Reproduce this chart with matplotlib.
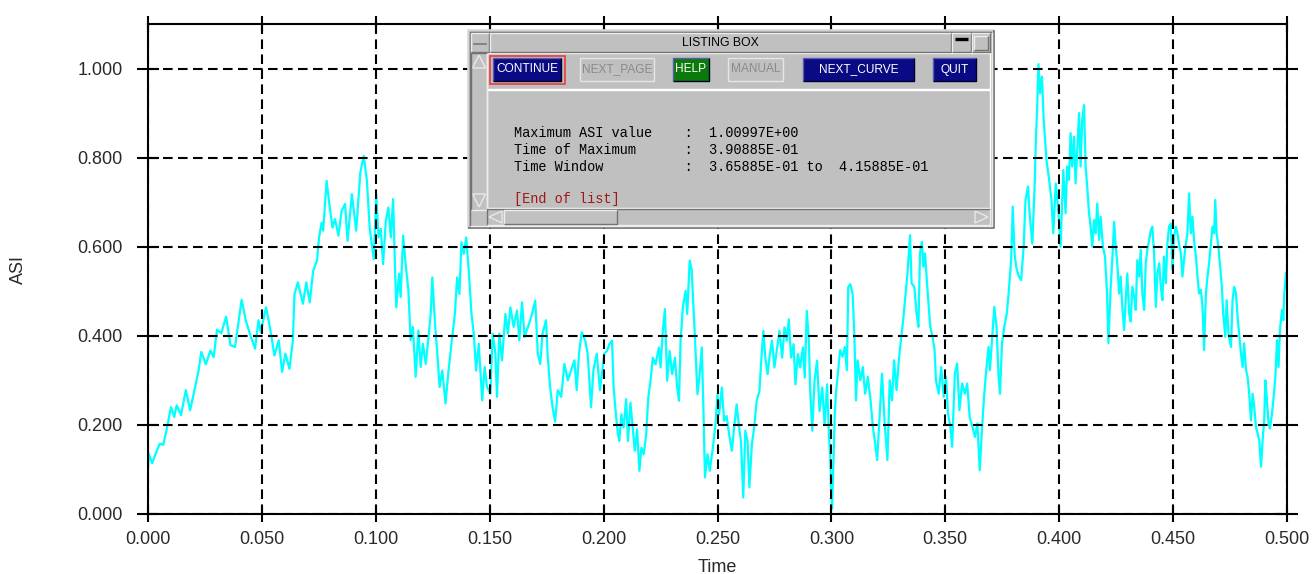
import matplotlib
matplotlib.use("Agg")
import matplotlib.pyplot as plt
from matplotlib.patches import Rectangle, Polygon

# ASI curve
time = [
    0.0000, 0.0003, 0.0018, 0.0037, 0.0052, 0.0067, 0.0081, 0.0101, 0.0115, 0.0126,
    0.0145, 0.0166, 0.0185, 0.0207, 0.0222, 0.0234, 0.0254, 0.0274, 0.0288, 0.0303,
    0.0322, 0.0343, 0.0362, 0.0382, 0.0411, 0.0429, 0.0447, 0.0470, 0.0485, 0.0495,
    0.0518, 0.0535, 0.0555, 0.0574, 0.0589, 0.0603, 0.0621, 0.0636, 0.0643, 0.0658,
    0.0680, 0.0695, 0.0710, 0.0725, 0.0742, 0.0751, 0.0762, 0.0769, 0.0784, 0.0796,
    0.0810, 0.0821, 0.0836, 0.0850, 0.0865, 0.0876, 0.0895, 0.0914, 0.0932, 0.0947,
    0.0961, 0.0973, 0.0991,
    0.1002, 0.1012, 0.1022, 0.1032, 0.1044, 0.1055, 0.1066, 0.1076, 0.1085, 0.1090,
    0.1102, 0.1109, 0.1120, 0.1131, 0.1143, 0.1153, 0.1163, 0.1175, 0.1187, 0.1197,
    0.1207, 0.1219, 0.1230, 0.1241, 0.1248, 0.1260, 0.1270, 0.1280, 0.1292, 0.1306,
    0.1318, 0.1332, 0.1347, 0.1357, 0.1367, 0.1376, 0.1386, 0.1397, 0.1408, 0.1420,
    0.1430, 0.1440, 0.1452, 0.1467, 0.1478, 0.1488, 0.1503, 0.1513, 0.1525, 0.1532,
    0.1542, 0.1554, 0.1569, 0.1580, 0.1591, 0.1605, 0.1620, 0.1630, 0.1642, 0.1653,
    0.1668, 0.1682, 0.1700, 0.1711, 0.1722, 0.1732, 0.1747, 0.1755, 0.1765, 0.1776,
    0.1787, 0.1799, 0.1814, 0.1828, 0.1843, 0.1857, 0.1872, 0.1882, 0.1892, 0.1904,
    0.1919, 0.1930, 0.1945, 0.1955, 0.1970, 0.1984, 0.2003,
    0.2015, 0.2025, 0.2037, 0.2044, 0.2054, 0.2063, 0.2069, 0.2078, 0.2088, 0.2099,
    0.2107, 0.2118, 0.2128, 0.2137, 0.2147, 0.2157, 0.2166, 0.2176, 0.2187, 0.2196,
    0.2206, 0.2216, 0.2228, 0.2243, 0.2250, 0.2260, 0.2269, 0.2279, 0.2290, 0.2301,
    0.2313, 0.2323, 0.2331, 0.2338, 0.2348, 0.2360, 0.2367, 0.2378, 0.2387, 0.2393,
    0.2401, 0.2412, 0.2422, 0.2431, 0.2437, 0.2445, 0.2456, 0.2466, 0.2478, 0.2490,
    0.2500, 0.2507, 0.2519, 0.2529, 0.2540, 0.2551, 0.2563, 0.2573, 0.2584, 0.2595,
    0.2603, 0.2613, 0.2622, 0.2632, 0.2640, 0.2651, 0.2661, 0.2672, 0.2684, 0.2691,
    0.2701, 0.2710, 0.2720, 0.2730, 0.2739, 0.2750, 0.2760, 0.2772, 0.2784, 0.2794,
    0.2804, 0.2813, 0.2823, 0.2834, 0.2842, 0.2853, 0.2863, 0.2875, 0.2883, 0.2892,
    0.2901, 0.2907, 0.2916, 0.2926, 0.2937, 0.2948, 0.2960, 0.2970, 0.2981, 0.2989,
    0.2995, 0.2999, 0.3003,
    0.3015, 0.3021, 0.3030, 0.3038, 0.3049, 0.3059, 0.3068, 0.3074, 0.3083, 0.3093,
    0.3101, 0.3108, 0.3115, 0.3127, 0.3138, 0.3148, 0.3160, 0.3172, 0.3182, 0.3192,
    0.3201, 0.3212, 0.3222, 0.3234, 0.3246, 0.3256, 0.3266, 0.3275, 0.3286, 0.3296,
    0.3305, 0.3315, 0.3326, 0.3334, 0.3345, 0.3352, 0.3364, 0.3374, 0.3382, 0.3389,
    0.3397, 0.3404, 0.3411, 0.3423, 0.3434, 0.3444, 0.3453, 0.3459, 0.3471, 0.3482,
    0.3493, 0.3503, 0.3512, 0.3522, 0.3530, 0.3542, 0.3552, 0.3562, 0.3574, 0.3586,
    0.3596, 0.3607, 0.3619, 0.3630, 0.3641, 0.3651, 0.3660, 0.3670, 0.3681, 0.3690,
    0.3696, 0.3704, 0.3715, 0.3725, 0.3734, 0.3740, 0.3749, 0.3759, 0.3770, 0.3778,
    0.3789, 0.3796, 0.3804, 0.3811, 0.3823, 0.3833, 0.3844, 0.3852, 0.3863, 0.3870,
    0.3882, 0.3892, 0.3898, 0.3903, 0.3909, 0.3916, 0.3924, 0.3932, 0.3944, 0.3956,
    0.3966, 0.3974, 0.3985, 0.3996, 0.4006, 0.4018,
    0.4028, 0.4035, 0.4043, 0.4050, 0.4057, 0.4065, 0.4072, 0.4079, 0.4087, 0.4094,
    0.4101, 0.4109, 0.4116, 0.4123, 0.4131, 0.4138, 0.4145, 0.4153, 0.4160, 0.4167,
    0.4175, 0.4182, 0.4192, 0.4201, 0.4210, 0.4216, 0.4226, 0.4233, 0.4241, 0.4248,
    0.4255, 0.4263, 0.4270, 0.4277, 0.4285, 0.4292, 0.4299, 0.4307, 0.4314, 0.4321,
    0.4329, 0.4336, 0.4343, 0.4351, 0.4358, 0.4365, 0.4373, 0.4380, 0.4387, 0.4395,
    0.4402, 0.4409, 0.4417, 0.4424, 0.4431, 0.4439, 0.4446, 0.4453, 0.4460, 0.4468,
    0.4475, 0.4482, 0.4490, 0.4497, 0.4504, 0.4512, 0.4519, 0.4526, 0.4534, 0.4541,
    0.4548, 0.4556, 0.4563, 0.4570, 0.4578, 0.4585, 0.4592, 0.4600, 0.4607, 0.4614,
    0.4622, 0.4629, 0.4636, 0.4644, 0.4651, 0.4658, 0.4666, 0.4673, 0.4680, 0.4685,
    0.4691, 0.4699, 0.4705, 0.4714, 0.4720, 0.4729, 0.4735, 0.4743, 0.4754, 0.4761,
    0.4768, 0.4776, 0.4783, 0.4790, 0.4798, 0.4805, 0.4812, 0.4820, 0.4827, 0.4834,
    0.4842, 0.4849, 0.4856, 0.4864, 0.4871, 0.4878, 0.4886, 0.4893, 0.4900, 0.4905,
    0.4912, 0.4919, 0.4925, 0.4934, 0.4940, 0.4949, 0.4956, 0.4963, 0.4969, 0.4978,
    0.4984, 0.4988, 0.4996,
]
asi = [
    0.102, 0.136, 0.114, 0.140, 0.158, 0.155, 0.188, 0.240, 0.218, 0.244,
    0.222, 0.278, 0.233, 0.285, 0.322, 0.364, 0.336, 0.367, 0.352, 0.414,
    0.406, 0.443, 0.379, 0.375, 0.481, 0.435, 0.405, 0.371, 0.435, 0.408,
    0.464, 0.420, 0.356, 0.390, 0.319, 0.360, 0.326, 0.390, 0.494, 0.520,
    0.472, 0.520, 0.475, 0.546, 0.569, 0.621, 0.654, 0.636, 0.748, 0.696,
    0.643, 0.662, 0.625, 0.681, 0.696, 0.613, 0.718, 0.636, 0.766, 0.804,
    0.748, 0.643, 0.572,
    0.718, 0.621, 0.640, 0.561, 0.658, 0.688, 0.621, 0.707, 0.539, 0.464,
    0.539, 0.487, 0.625, 0.561, 0.502, 0.390, 0.420, 0.308, 0.412, 0.330,
    0.382, 0.337, 0.390, 0.449, 0.531, 0.427, 0.360, 0.285, 0.322, 0.248,
    0.315, 0.382, 0.449, 0.531, 0.494, 0.610, 0.584, 0.621, 0.546, 0.449,
    0.405, 0.322, 0.382, 0.255, 0.330, 0.285, 0.270, 0.405, 0.360, 0.263,
    0.405, 0.345, 0.449, 0.405, 0.464, 0.420, 0.457, 0.390, 0.475, 0.397,
    0.420, 0.442, 0.479, 0.360, 0.337, 0.405, 0.435, 0.352, 0.285, 0.240,
    0.207, 0.278, 0.263, 0.337, 0.300, 0.322, 0.345, 0.278, 0.360, 0.408,
    0.390, 0.360, 0.240, 0.322, 0.360, 0.278, 0.360,
    0.366, 0.381, 0.389, 0.284, 0.224, 0.179, 0.164, 0.224, 0.194, 0.258,
    0.164, 0.250, 0.194, 0.142, 0.190, 0.097, 0.149, 0.134, 0.179, 0.261,
    0.299, 0.351, 0.336, 0.374, 0.329, 0.411, 0.460, 0.299, 0.366, 0.314,
    0.351, 0.284, 0.254, 0.389, 0.464, 0.501, 0.449, 0.569, 0.546, 0.479,
    0.396, 0.269, 0.314, 0.374, 0.261, 0.082, 0.134, 0.097, 0.142, 0.194,
    0.269, 0.224, 0.284, 0.209, 0.220, 0.179, 0.142, 0.194, 0.246, 0.194,
    0.164, 0.037, 0.187, 0.164, 0.060, 0.157, 0.194, 0.254, 0.276, 0.336,
    0.411, 0.351, 0.314, 0.359, 0.389, 0.329, 0.366, 0.411, 0.351, 0.419,
    0.389, 0.437, 0.351, 0.381, 0.291, 0.359, 0.329, 0.374, 0.306, 0.456,
    0.389, 0.276, 0.187, 0.299, 0.344, 0.231, 0.284, 0.201, 0.291, 0.179,
    0.127, 0.052, 0.012,
    0.225, 0.278, 0.323, 0.368, 0.353, 0.375, 0.323, 0.510, 0.516, 0.495,
    0.398, 0.255, 0.345, 0.300, 0.330, 0.270, 0.308, 0.255, 0.196, 0.158,
    0.121, 0.225, 0.315, 0.203, 0.121, 0.300, 0.255, 0.345, 0.278, 0.345,
    0.390, 0.435, 0.495, 0.540, 0.626, 0.518, 0.510, 0.450, 0.420, 0.585,
    0.611, 0.555, 0.585, 0.495, 0.420, 0.398, 0.368, 0.300, 0.270, 0.330,
    0.263, 0.308, 0.225, 0.196, 0.151, 0.315, 0.338, 0.233, 0.293, 0.270,
    0.293, 0.218, 0.196, 0.173, 0.203, 0.098, 0.181, 0.263, 0.330, 0.375,
    0.323, 0.383, 0.465, 0.420, 0.308, 0.270, 0.383, 0.420, 0.450, 0.495,
    0.570, 0.690, 0.585, 0.555, 0.533, 0.525, 0.600, 0.705, 0.735, 0.675,
    0.607, 0.735, 0.847, 0.907, 1.010, 0.945, 0.982, 0.885, 0.795, 0.750,
    0.705, 0.630, 0.742, 0.682, 0.600, 0.772,
    0.675, 0.780, 0.750, 0.855, 0.780, 0.847, 0.742, 0.817, 0.900, 0.780,
    0.885, 0.918, 0.780, 0.735, 0.675, 0.645, 0.600, 0.660, 0.630, 0.697,
    0.615, 0.667, 0.600, 0.578, 0.495, 0.383, 0.510, 0.570, 0.656, 0.600,
    0.563, 0.495, 0.533, 0.465, 0.413, 0.480, 0.540, 0.450, 0.432, 0.510,
    0.488, 0.458, 0.570, 0.533, 0.593, 0.495, 0.458, 0.563, 0.593, 0.615,
    0.637, 0.645, 0.578, 0.465, 0.540, 0.563, 0.510, 0.480, 0.578, 0.518,
    0.607, 0.645, 0.652, 0.548, 0.622, 0.645, 0.630, 0.607, 0.585, 0.533,
    0.570, 0.607, 0.630, 0.720, 0.630, 0.667, 0.615, 0.578, 0.533, 0.495,
    0.503, 0.465, 0.368, 0.495, 0.533, 0.563, 0.607, 0.645, 0.630, 0.705,
    0.630, 0.600, 0.563, 0.510, 0.450, 0.398, 0.480, 0.405, 0.375, 0.480,
    0.510, 0.495, 0.443, 0.405, 0.360, 0.330, 0.383, 0.323, 0.308, 0.270,
    0.210, 0.270, 0.240, 0.195, 0.180, 0.166, 0.106, 0.166, 0.210, 0.300,
    0.255, 0.203, 0.192, 0.225, 0.255, 0.308, 0.390, 0.330, 0.413, 0.458,
    0.435, 0.495, 0.540,
]

x_ticks = [0.0, 0.05, 0.1, 0.15, 0.2, 0.25, 0.3, 0.35, 0.4, 0.45, 0.5]
y_ticks = [0.0, 0.2, 0.4, 0.6, 0.8, 1.0]

# listing box contents
box_title = "LISTING BOX"
button_labels = ["CONTINUE", "NEXT_PAGE", "HELP", "MANUAL", "NEXT_CURVE", "QUIT"]
listing_lines = [
    "Maximum ASI value    :  1.00997E+00",
    "Time of Maximum      :  3.90885E-01",
    "Time Window          :  3.65885E-01 to  4.15885E-01",
]
end_line = "[End of list]"

W, H = 1314, 574
fig = plt.figure(figsize=(W / 100, H / 100), dpi=100)
ax = fig.add_axes([148 / W, 60 / H, 1139 / W, 490 / H])

ax.plot(time, asi, color="#00FFFF", lw=1.6, zorder=2)
ax.set_xlim(0, 0.5)
ax.set_ylim(0, 1.1)
ax.set_xticks(x_ticks)
ax.set_yticks(y_ticks)
ax.set_xticklabels([f"{v:.3f}" for v in x_ticks])
ax.set_yticklabels([f"{v:.3f}" for v in y_ticks])

ax.set_axisbelow(False)
ax.grid(True, color="black", lw=1.5, ls=(0, (4.6, 2.6)))
for sp in ax.spines.values():
    sp.set_linewidth(1.5)
    sp.set_color("black")

lab_font = dict(family="Liberation Sans", size=13, color="#2a2a2a")
ax.tick_params(axis="x", direction="inout", length=12, width=1.5, top=True,
               pad=6, labelsize=13, labelcolor="#2a2a2a")
ax.tick_params(axis="y", direction="inout", length=16, width=1.5, right=True,
               pad=10, labelsize=13, labelcolor="#2a2a2a")
for lab in ax.get_xticklabels() + ax.get_yticklabels():
    lab.set_family("Liberation Sans")

ax.set_xlabel("Time", va="center", **lab_font)
ax.xaxis.set_label_coords(0.5, -0.11)
ax.set_ylabel("ASI", va="center", **lab_font)
ax.yaxis.set_label_coords(-0.114, 0.5)

# overlay in pixel coordinates for the listing box
ov = fig.add_axes([0, 0, 1, 1])
ov.set_xlim(0, W)
ov.set_ylim(H, 0)
ov.axis("off")

GREY = "#C0C0C0"


def bevel(x0, y0, x1, y1, face, light="#EDEDED", dark="#737373", lw=1.0, raised=True):
    ov.add_patch(Rectangle((x0, y0), x1 - x0, y1 - y0, facecolor=face, edgecolor="none"))
    tl, br = (light, dark) if raised else (dark, light)
    ov.plot([x0, x0, x1], [y1, y0, y0], color=tl, lw=lw, solid_capstyle="butt")
    ov.plot([x0, x1, x1], [y1, y1, y0], color=br, lw=lw, solid_capstyle="butt")


# frame
bevel(468, 30, 994, 228, GREY, light="#DADADA", dark="#6E6E6E", lw=1.2)
bevel(470, 32, 992, 226, GREY, raised=False)

# title bar
bevel(471, 33, 489, 52, GREY)
ov.plot([474, 486], [43.5, 43.5], color="#7A7A7A", lw=1.2)
bevel(490, 33, 951, 52, GREY)
ov.text(720, 43, box_title, ha="center", va="center", family="Liberation Sans",
        fontsize=8.8, color="black")
bevel(952, 33, 971, 52, GREY)
ov.plot([955, 968], [38.5, 38.5], color="black", lw=2.4, solid_capstyle="butt")
bevel(972, 33, 990, 52, GREY)
bevel(974, 36, 988, 50, GREY)

# left scroll bar
bevel(471, 53, 487, 210, GREY, raised=False)
ov.add_patch(Polygon([[479, 55], [472.5, 68], [485.5, 68]], closed=True,
                     facecolor=GREY, edgecolor="#E8E8E8", lw=1.0))
ov.add_patch(Polygon([[472.5, 194], [485.5, 194], [479, 207]], closed=True,
                     facecolor=GREY, edgecolor="#E8E8E8", lw=1.0))

# button row and text panel outlines
ov.add_patch(Rectangle((487, 53), 503, 36, facecolor="none", edgecolor="white", lw=1.0))
ov.add_patch(Rectangle((487, 90), 503, 118, facecolor="none", edgecolor="white", lw=1.0))

# buttons
btn_x = [(493, 561), (580, 654), (673, 709), (728, 783), (803, 914), (933, 976)]
btn_face = ["#0A0A84", GREY, "#0A7A0A", GREY, "#0A0A84", "#0A0A84"]
btn_text = ["white", "#8A8A8A", "white", "#8A8A8A", "white", "white"]
for (x0, x1), face, tc, label in zip(btn_x, btn_face, btn_text, button_labels):
    if face == GREY:
        bevel(x0, 58, x1, 81, face, light="#E6E6E6", dark="#E6E6E6")
    else:
        bevel(x0, 58, x1, 81, face, light="#5A5AB0", dark="#000030")
    ov.text((x0 + x1) / 2, 69.5, label, ha="center", va="center",
            family="Liberation Sans", fontsize=8.6, color=tc)
ov.add_patch(Rectangle((489.5, 55.5), 75, 28.5, facecolor="none",
                       edgecolor="#F03A3A", lw=1.2))

# listing text
for i, line in enumerate(listing_lines):
    ov.text(514, 133 + 17 * i, line, ha="left", va="center",
            family="Liberation Mono", fontsize=9.8, color="black")
ov.text(514, 199, end_line, ha="left", va="center",
        family="Liberation Mono", fontsize=9.8, color="#A01818")

# bottom scroll bar
bevel(487, 209, 990, 225, GREY, raised=False)
ov.add_patch(Polygon([[489, 217], [502, 211], [502, 223]], closed=True,
                     facecolor=GREY, edgecolor="#E8E8E8", lw=1.0))
bevel(504, 210, 617, 224, GREY)
ov.add_patch(Polygon([[988, 217], [975, 211], [975, 223]], closed=True,
                     facecolor=GREY, edgecolor="#E8E8E8", lw=1.0))

fig.savefig("out.png", dpi=100)
